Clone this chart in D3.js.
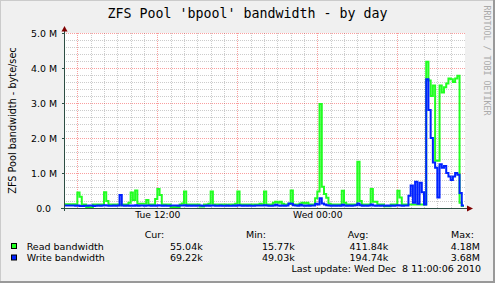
<!DOCTYPE html>
<html><head><meta charset="utf-8">
<script src="https://cdn.jsdelivr.net/npm/d3@7/dist/d3.min.js"></script>
<style>html,body{margin:0;padding:0;background:#F0F0F0;overflow:hidden}svg{display:block}text{white-space:pre}</style>
</head><body><svg id="c" width="495" height="283"></svg>
<script>
const title = "ZFS Pool 'bpool' bandwidth - by day";
const yAxisTitle = "ZFS Pool bandwidth - byte/sec";
const watermark = "RRDTOOL / TOBI OETIKER";
const startTime = new Date(2010, 11, 7, 5, 0, 0);
const endTime = new Date(2010, 11, 8, 11, 0, 0);
const stepMinutes = 10;
// values in MB/s, one per 10 minutes starting Tue 05:00
const readMB = [
  0.11,0.11,0.11,0.10,0.11,0.10,0.44,0.32,0.10,0.10,
  0.03,0.03,0.03,0.10,0.10,0.10,0.10,0.10,0.45,0.20,
  0.10,0.10,0.10,0.10,0.10,0.08,0.10,0.10,0.10,0.15,
  0.44,0.23,0.50,0.12,0.12,0.12,0.12,0.23,0.10,0.10,
  0.10,0.26,0.54,0.37,0.10,0.10,0.10,0.10,0.03,0.03,
  0.03,0.03,0.10,0.13,0.47,0.10,0.10,0.10,0.10,0.10,
  0.10,0.04,0.04,0.10,0.10,0.12,0.47,0.10,0.10,0.10,
  0.10,0.10,0.10,0.08,0.10,0.10,0.10,0.12,0.47,0.10,
  0.10,0.10,0.10,0.10,0.10,0.10,0.10,0.10,0.12,0.10,
  0.47,0.10,0.10,0.10,0.15,0.18,0.15,0.18,0.12,0.10,
  0.10,0.12,0.50,0.10,0.10,0.10,0.13,0.15,0.13,0.15,
  0.10,0.10,0.10,0.28,0.47,2.97,0.61,0.40,0.29,0.12,
  0.10,0.10,0.10,0.10,0.10,0.49,0.15,0.10,0.10,0.10,
  0.10,0.10,1.32,0.20,0.10,0.10,0.10,0.10,0.54,0.18,
  0.18,0.10,0.10,0.10,0.05,0.05,0.05,0.10,0.10,0.10,
  0.49,0.30,0.10,0.10,0.10,0.10,0.10,0.10,0.10,0.10,
  0.10,0.10,0.10,4.18,3.64,3.20,3.50,1.35,1.35,3.50,
  3.30,3.45,3.56,3.70,3.68,3.60,3.70,3.78,0.15,0.055
];
const writeMB = [
  0.070,0.070,0.070,0.075,0.070,0.065,0.070,0.060,0.060,0.065,
  0.065,0.070,0.070,0.060,0.065,0.070,0.065,0.070,0.080,0.070,
  0.065,0.065,0.070,0.065,0.070,0.370,0.070,0.065,0.070,0.065,
  0.070,0.065,0.080,0.065,0.070,0.070,0.065,0.070,0.075,0.065,
  0.070,0.065,0.080,0.075,0.065,0.070,0.065,0.065,0.070,0.075,
  0.070,0.065,0.070,0.075,0.080,0.065,0.070,0.065,0.070,0.065,
  0.070,0.075,0.065,0.065,0.070,0.065,0.075,0.070,0.065,0.065,
  0.070,0.065,0.065,0.070,0.065,0.065,0.070,0.065,0.080,0.070,
  0.065,0.070,0.065,0.070,0.065,0.065,0.070,0.075,0.070,0.070,
  0.080,0.070,0.065,0.065,0.070,0.090,0.070,0.065,0.070,0.065,
  0.070,0.130,0.120,0.080,0.070,0.065,0.090,0.070,0.065,0.070,
  0.065,0.070,0.070,0.120,0.100,0.280,0.130,0.100,0.080,0.070,
  0.065,0.070,0.065,0.070,0.065,0.090,0.070,0.065,0.070,0.065,
  0.070,0.080,0.130,0.080,0.065,0.070,0.065,0.070,0.100,0.070,
  0.065,0.070,0.065,0.070,0.065,0.070,0.065,0.070,0.065,0.070,
  0.080,0.070,0.065,0.070,0.070,0.350,0.640,0.150,0.750,0.120,
  0.720,0.450,0.100,3.680,2.800,2.000,1.300,1.150,0.300,1.250,
  1.150,1.200,1.000,0.900,0.800,0.900,1.000,0.950,0.430,0.069
];
const seriesNames = ["Read bandwidth", "Write bandwidth"];
const seriesColors = ["#22ff22", "#0022ff"];
const yTicks = [0, 1, 2, 3, 4, 5];
const yTickLabels = ["0.0  ", "1.0 M", "2.0 M", "3.0 M", "4.0 M", "5.0 M"];
const xTickTimes = [new Date(2010, 11, 7, 12, 0), new Date(2010, 11, 8, 0, 0)];
const xTickLabels = ["Tue 12:00", "Wed 00:00"];
const legendHeaders = ["Cur:", "Min:", "Avg:", "Max:"];
const readStats = ["55.04k", "15.77k", "411.84k", "4.18M"];
const writeStats = ["69.22k", "49.03k", "194.74k", "3.68M"];
const lastUpdate = "Last update: Wed Dec  8 11:00:06 2010";

const W = 495, H = 283;
const L = 64, R = 464, T = 33, B = 208;
const svg = d3.select("#c");
const SANS = "'DejaVu Sans', sans-serif";
const MONO = "'DejaVu Sans Mono', monospace";

// background + frame
svg.append("rect").attr("width", W).attr("height", H).attr("fill", "#F0F0F0");
svg.append("path").attr("d", `M0,${H} V0 H${W}`).attr("stroke", "#CBCBCB").attr("stroke-width", 2).attr("fill", "none");
svg.append("path").attr("d", `M0,${H-1} H${W-1} V0`).attr("stroke", "#999999").attr("stroke-width", 2).attr("fill", "none");

// canvas
svg.append("rect").attr("x", L).attr("y", T).attr("width", R - L + 1).attr("height", B - T).attr("fill", "#FFFFFF");

const x = d3.scaleTime().domain([startTime, endTime]).range([L, R]);
const y = d3.scaleLinear().domain([0, 5]).range([B, T]);

const px = v => Math.round(v) + 0.5;
const grid = svg.append("g");
// minor grid
const minorY = d3.range(1, 25).map(k => k * 0.2).filter(v => Math.abs(v - Math.round(v)) > 1e-6);
grid.selectAll(".my").data(minorY).join("line")
  .attr("x1", L).attr("x2", R + 2).attr("y1", d => px(y(d))).attr("y2", d => px(y(d)))
  .attr("stroke", "rgba(143,143,143,0.45)").attr("stroke-dasharray", "1,1");
const hours = d3.timeHour.range(d3.timeHour.offset(startTime, 1), endTime);
grid.selectAll(".mx").data(hours.filter(h => h.getHours() % 6 !== 0)).join("line")
  .attr("x1", d => px(x(d))).attr("x2", d => px(x(d))).attr("y1", T).attr("y2", B)
  .attr("stroke", "rgba(143,143,143,0.45)").attr("stroke-dasharray", "1,1");
// major grid
grid.selectAll(".My").data(yTicks.slice(1)).join("line")
  .attr("x1", L).attr("x2", R + 2).attr("y1", d => px(y(d))).attr("y2", d => px(y(d)))
  .attr("stroke", "rgba(240,0,0,0.38)").attr("stroke-dasharray", "1,1");
grid.selectAll(".Mx").data(hours.filter(h => h.getHours() % 6 === 0)).join("line")
  .attr("x1", d => px(x(d))).attr("x2", d => px(x(d))).attr("y1", T).attr("y2", B)
  .attr("stroke", "rgba(240,0,0,0.38)").attr("stroke-dasharray", "1,1");

// series
const toPoints = arr => {
  const pts = arr.map((v, i) => ({ t: d3.timeMinute.offset(startTime, i * stepMinutes), v }));
  pts.push({ t: endTime, v: arr[arr.length - 1] });
  return pts;
};
const line = d3.line().x(d => x(d.t)).y(d => y(d.v)).curve(d3.curveStepAfter);
[readMB, writeMB].forEach((arr, k) => {
  svg.append("path").datum(toPoints(arr)).attr("d", line)
    .attr("fill", "none").attr("stroke", seriesColors[k]).attr("stroke-width", 2)
    .attr("stroke-linejoin", "miter");
});

// axes
const AX = "#2C4D43";
svg.append("line").attr("x1", L + 0.5).attr("x2", L + 0.5).attr("y1", B + 3).attr("y2", T - 2).attr("stroke", AX);
svg.append("line").attr("x1", L - 3).attr("x2", R + 4).attr("y1", B + 0.5).attr("y2", B + 0.5).attr("stroke", AX);
svg.append("path").attr("d", `M${L - 2.5},${T - 1.5} L${L + 3.5},${T - 1.5} L${L + 0.5},${T - 7} Z`).attr("fill", "#7F0000");
svg.append("path").attr("d", `M${R + 3},${B - 2.5} L${R + 3},${B + 3.5} L${R + 9},${B + 0.5} Z`).attr("fill", "#7F0000");
// y ticks
svg.selectAll(".yt").data(yTicks.slice(1)).join("line")
  .attr("x1", L - 2).attr("x2", L).attr("y1", d => px(y(d))).attr("y2", d => px(y(d))).attr("stroke", AX);

// y axis labels
const yAxis = d3.axisLeft(y).tickValues(yTicks).tickFormat((d, i) => yTickLabels[i]).tickSize(0).tickPadding(0);
const yg = svg.append("g").attr("transform", `translate(${L - 7},0)`).call(yAxis);
yg.select(".domain").remove();
yg.selectAll("text").attr("font-family", SANS).attr("font-size", 9.4).attr("fill", "#000").attr("dy", "0.34em");

// x axis labels
const xAxis = d3.axisBottom(x).tickValues(xTickTimes).tickFormat((d, i) => xTickLabels[i]).tickSize(0).tickPadding(0);
const xg = svg.append("g").attr("transform", `translate(0,${B + 3})`).call(xAxis);
xg.select(".domain").remove();
xg.selectAll("text").attr("font-family", SANS).attr("font-size", 9.2).attr("fill", "#000").attr("dy", "0.71em");

// title
svg.append("text").attr("x", 247.5).attr("y", 18).attr("text-anchor", "middle")
  .attr("font-family", MONO).attr("font-size", 13.3).attr("fill", "#000").text(title);
// y title
svg.append("text").attr("transform", "translate(15.5,120.5) rotate(-90)").attr("text-anchor", "middle")
  .attr("font-family", SANS).attr("font-size", 9.7).attr("fill", "#000").text(yAxisTitle);
// watermark
svg.append("text").attr("transform", "translate(483.5,5.5) rotate(90)").attr("text-anchor", "start")
  .attr("font-family", MONO).attr("font-size", 8.3).attr("fill", "#AAAAAA").text(watermark);

// legend
const LF = 9.5;
const headerX = [144.7, 246, 347.7, 451];
const valueX = [202.7, 294.7, 388.3, 480];
svg.selectAll(".lh").data(legendHeaders).join("text")
  .attr("x", (d, i) => headerX[i]).attr("y", 238).attr("font-family", SANS).attr("font-size", LF).attr("fill", "#000").text(d => d);
const rowsY = [249.5, 261];
[readStats, writeStats].forEach((stats, k) => {
  svg.append("rect").attr("x", 11.5).attr("y", rowsY[k] - 6).attr("width", 5).attr("height", 5)
    .attr("fill", seriesColors[k]).attr("stroke", "#000").attr("stroke-width", 1);
  svg.append("text").attr("x", 26.7).attr("y", rowsY[k]).attr("font-family", SANS).attr("font-size", LF).attr("fill", "#000").text(seriesNames[k]);
  svg.selectAll(".v" + k).data(stats).join("text")
    .attr("x", (d, i) => valueX[i]).attr("y", rowsY[k]).attr("text-anchor", "end")
    .attr("font-family", SANS).attr("font-size", LF).attr("fill", "#000").text(d => d);
});
svg.append("text").attr("x", 481).attr("y", 272).attr("text-anchor", "end")
  .attr("font-family", SANS).attr("font-size", LF).attr("fill", "#000").text(lastUpdate);
</script></body></html>
